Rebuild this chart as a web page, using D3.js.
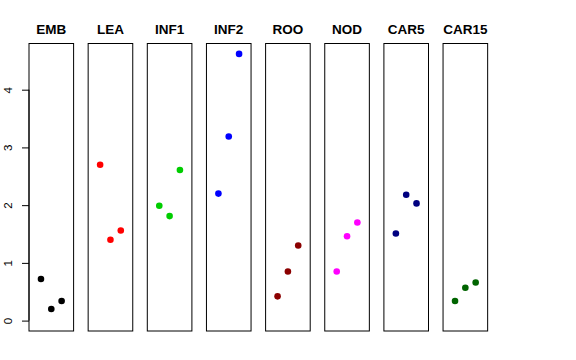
<!DOCTYPE html>
<html>
<head>
<meta charset="utf-8">
<script src="https://cdn.jsdelivr.net/npm/d3@7"></script>
<style>
  body { margin: 0; background: #fff; }
  svg { display: block; font-family: "Liberation Sans", Arial, sans-serif; }
</style>
</head>
<body>
<div id="chart"></div>
<script>
// panel names, colours and the three values per panel (x = 1, 2, 3)
const panels = ["EMB", "LEA", "INF1", "INF2", "ROO", "NOD", "CAR5", "CAR15"];
const colors = ["#000000", "#ff0000", "#00cd00", "#0000ff", "#8b0000", "#ff00ff", "#000080", "#006400"];
const values = [
  [0.72, 0.20, 0.34],
  [2.70, 1.40, 1.56],
  [1.99, 1.81, 2.61],
  [2.20, 3.19, 4.62],
  [0.42, 0.85, 1.30],
  [0.85, 1.46, 1.70],
  [1.51, 2.18, 2.03],
  [0.34, 0.57, 0.66],
];
const xs = [1, 2, 3];
const yTicks = [0, 1, 2, 3, 4];

const width = 576, height = 360;
const plotTop = 43.5, plotBottom = 331;
const firstLeft = 29, step = 59.15, panelW = 44.6;

const svg = d3.select("#chart").append("svg")
  .attr("width", width)
  .attr("height", height);

// shared y scale
const y = d3.scaleLinear().domain([-0.18, 4.80]).range([plotBottom, plotTop]);
// x within each panel
const x = d3.scaleLinear().domain([-0.16, 4.16]).range([0, panelW]);

panels.forEach((name, i) => {
  const g = svg.append("g")
    .attr("transform", `translate(${firstLeft + i * step},0)`);

  g.append("rect")
    .attr("x", 0)
    .attr("y", plotTop)
    .attr("width", panelW)
    .attr("height", plotBottom - plotTop)
    .attr("fill", "none")
    .attr("stroke", "#000")
    .attr("stroke-width", 1);

  g.append("text")
    .attr("x", panelW / 2)
    .attr("y", 34)
    .attr("text-anchor", "middle")
    .attr("font-size", 13.5)
    .attr("font-weight", "bold")
    .text(name);

  g.selectAll("circle")
    .data(values[i])
    .enter()
    .append("circle")
    .attr("cx", (d, j) => x(xs[j]))
    .attr("cy", (d) => y(d))
    .attr("r", 3.3)
    .attr("fill", colors[i]);
});

// y axis on the first panel only
const yAxis = d3.axisLeft(y).tickValues(yTicks).tickSize(7).tickFormat(d3.format("d"));
const ax = svg.append("g")
  .attr("transform", `translate(${firstLeft},0)`)
  .call(yAxis);
ax.select(".domain")
  .attr("d", `M0,${y(0)}V${y(4)}`);
ax.selectAll(".tick text")
  .attr("font-size", 11.5)
  .attr("fill", "#000")
  .attr("transform", "rotate(-90)")
  .attr("text-anchor", "middle")
  .attr("x", 0)
  .attr("y", -21)
  .attr("dy", "0.32em");
</script>
</body>
</html>
